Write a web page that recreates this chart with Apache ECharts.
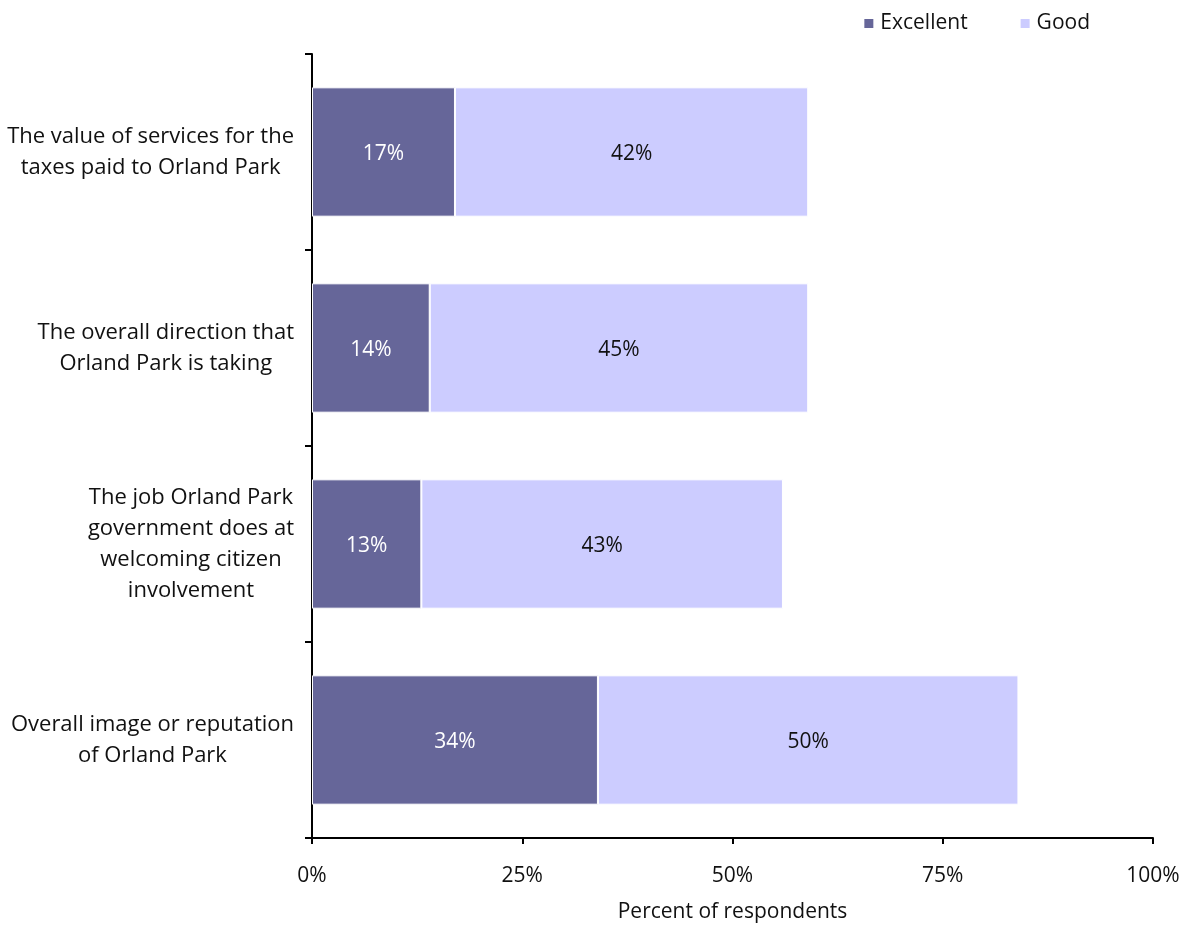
<!DOCTYPE html>
<html><head><meta charset="utf-8">
<script src="https://cdn.jsdelivr.net/npm/echarts@6/dist/echarts.min.js"></script>
<style>html,body{margin:0;padding:0;background:#fff}#c{width:1188px;height:928px}</style>
</head><body><div id="c"></div>
<script>
const categories = [
  "Overall image or reputation\nof Orland Park",
  "The job Orland Park\ngovernment does at\nwelcoming citizen\ninvolvement",
  "The overall direction that\nOrland Park is taking",
  "The value of services for the\ntaxes paid to Orland Park"
];
const excellent = [34, 13, 14, 17];
const good = [50, 43, 45, 42];
const xTicks = ["0%", "25%", "50%", "75%", "100%"];

const FONT = "Open Sans";
const FS = 21;
const chart = echarts.init(document.getElementById('c'));
chart.setOption({
  animation: false,
  textStyle: { fontFamily: FONT },
  legend: {
    top: 8, right: 93, itemWidth: 11, itemHeight: 11, itemGap: 51,
    icon: 'rect',
    textStyle: { fontFamily: FONT, fontSize: FS, color: '#111', padding: [0, 0, 0, 1] },
    data: ['Excellent', 'Good']
  },
  grid: { left: 312, right: 35, top: 54, bottom: 83, containLabel: false },
  xAxis: {
    type: 'value', min: 0, max: 100, interval: 25,
    name: 'Percent of respondents', nameLocation: 'middle', nameGap: 64,
    nameTextStyle: { fontFamily: FONT, fontSize: FS, color: '#111' },
    axisLine: { show: true, lineStyle: { color: '#000', width: 2 } },
    axisTick: { show: true, length: 6, lineStyle: { color: '#000', width: 2 } },
    splitLine: { show: false },
    axisLabel: { fontFamily: FONT, fontSize: FS, color: '#111', margin: 28,
      formatter: v => xTicks[Math.round(v / 25)] }
  },
  yAxis: {
    type: 'category', data: categories,
    axisLine: { show: true, lineStyle: { color: '#000', width: 2 } },
    axisTick: { show: true, length: 7, lineStyle: { color: '#000', width: 2 } },
    axisLabel: { color: '#111', margin: 18, align: 'right',
      formatter: v => v.split('\n').map(s => '{a|' + s + '}').join('\n'),
      rich: { a: { fontFamily: FONT, fontSize: 22, color: '#111', lineHeight: 31, align: 'center' } }
    }
  },
  series: [
    { name: 'Excellent', type: 'bar', stack: 't', data: excellent,
      barCategoryGap: '34%',
      itemStyle: { color: '#666699', borderColor: '#fff', borderWidth: 1 },
      label: { show: true, position: 'inside', formatter: p => p.value + '%',
        color: '#fff', fontFamily: FONT, fontSize: FS, offset: [0, 2] } },
    { name: 'Good', type: 'bar', stack: 't', data: good,
      barCategoryGap: '34%',
      itemStyle: { color: '#ccccff', borderColor: '#fff', borderWidth: 1 },
      label: { show: true, position: 'inside', formatter: p => p.value + '%',
        color: '#111', fontFamily: FONT, fontSize: FS, offset: [0, 2] } }
  ]
});
</script></body></html>
